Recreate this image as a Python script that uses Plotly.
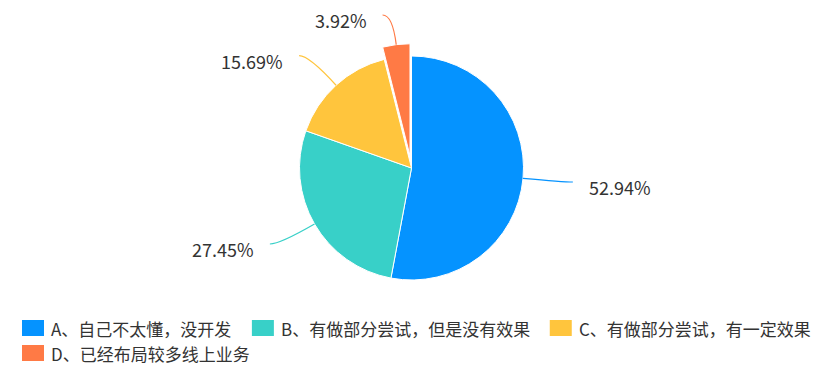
import math
import plotly.graph_objects as go

# ---- data ----
labels = ["A、自己不太懂，没开发", "B、有做部分尝试，但是没有效果",
          "C、有做部分尝试，有一定效果", "D、已经布局较多线上业务"]
values = [52.94, 27.45, 15.69, 3.92]
value_text = ["52.94%", "27.45%", "15.69%", "3.92%"]
colors = ["#0593FF", "#38D0C8", "#FFC53D", "#FF7A45"]
pulls = [0, 0, 0, 0.11]

# ---- layout constants ----
W, H = 817, 375
CX, CY, R = 411.5, 168, 112
L1, L2, TOP_LIMIT, LABEL_GAP = 40, 10, 15, 14
FONT = "Noto Sans CJK SC"
TXT = "#333333"

def px(x):
    return x / W

def py(y):
    return 1 - y / H

half = R * (1 + max(pulls))
fig = go.Figure(go.Pie(
    labels=labels, values=values, sort=False, direction="clockwise", rotation=0,
    pull=pulls, textinfo="none", showlegend=False,
    marker=dict(colors=colors, line=dict(color="white", width=1)),
    domain=dict(x=[px(CX - half), px(CX + half)], y=[py(CY + half), py(CY - half)]),
))

shapes, annotations = [], []
total = sum(values)
cum = 0.0
for lab, v, t, c, p in zip(labels, values, value_text, colors, pulls):
    mid = (cum + v / 2) / total * 2 * math.pi
    cum += v
    sx, sy = math.sin(mid), -math.cos(mid)
    r0 = R * (1 + p)
    x0, y0 = CX + r0 * sx, CY + r0 * sy
    r1 = r0 + L1
    if CY + r1 * sy < TOP_LIMIT:
        r1 = (CY - TOP_LIMIT) / (-sy)
    x1, y1 = CX + r1 * sx, CY + r1 * sy
    side = 1 if sx >= 0 else -1
    x2, y2 = x1 + side * L2, y1
    shapes.append(dict(
        type="path", xref="paper", yref="paper",
        path=f"M{px(x0)},{py(y0)} Q{px(x1)},{py(y1)} {px(x2)},{py(y2)}",
        line=dict(color=c, width=1.2),
    ))
    annotations.append(dict(
        x=px(x2 + side * LABEL_GAP), y=py(y2 + 5), xref="paper", yref="paper",
        text=t, showarrow=False, xanchor="left" if side > 0 else "right",
        yanchor="middle", font=dict(family=FONT, size=18, color=TXT),
    ))

# ---- legend (built manually) ----
LEG_FS = 17
LEG_X0, LEG_Y0, ROW_H = 22, 328, 25
SW, SH, TEXT_GAP, ITEM_GAP = 22, 16, 6, 21

def text_w(s, fs):
    w = 0.0
    for ch in s:
        if ord(ch) > 0x2E80:
            w += 1.0
        elif ch.isupper():
            w += 0.64
        else:
            w += 0.55
    return w * fs

x, row = LEG_X0, 0
for lab, c in zip(labels, colors):
    item_w = SW + TEXT_GAP + text_w(lab, LEG_FS)
    if x + item_w > W and x > LEG_X0:
        x, row = LEG_X0, row + 1
    yc = LEG_Y0 + row * ROW_H
    shapes.append(dict(type="rect", xref="paper", yref="paper",
                       x0=px(x), x1=px(x + SW), y0=py(yc + SH / 2), y1=py(yc - SH / 2),
                       fillcolor=c, line=dict(width=0)))
    annotations.append(dict(x=px(x + SW + TEXT_GAP - 1), y=py(yc), xref="paper", yref="paper",
                            text=lab, showarrow=False, xanchor="left", yanchor="middle",
                            font=dict(family=FONT, size=LEG_FS, color=TXT)))
    x += item_w + ITEM_GAP

fig.update_layout(
    width=W, height=H, autosize=False,
    margin=dict(l=0, r=0, t=0, b=0),
    paper_bgcolor="white", plot_bgcolor="white",
    shapes=shapes, annotations=annotations,
    font=dict(family=FONT, color=TXT),
)

fig.write_html("out.html")
